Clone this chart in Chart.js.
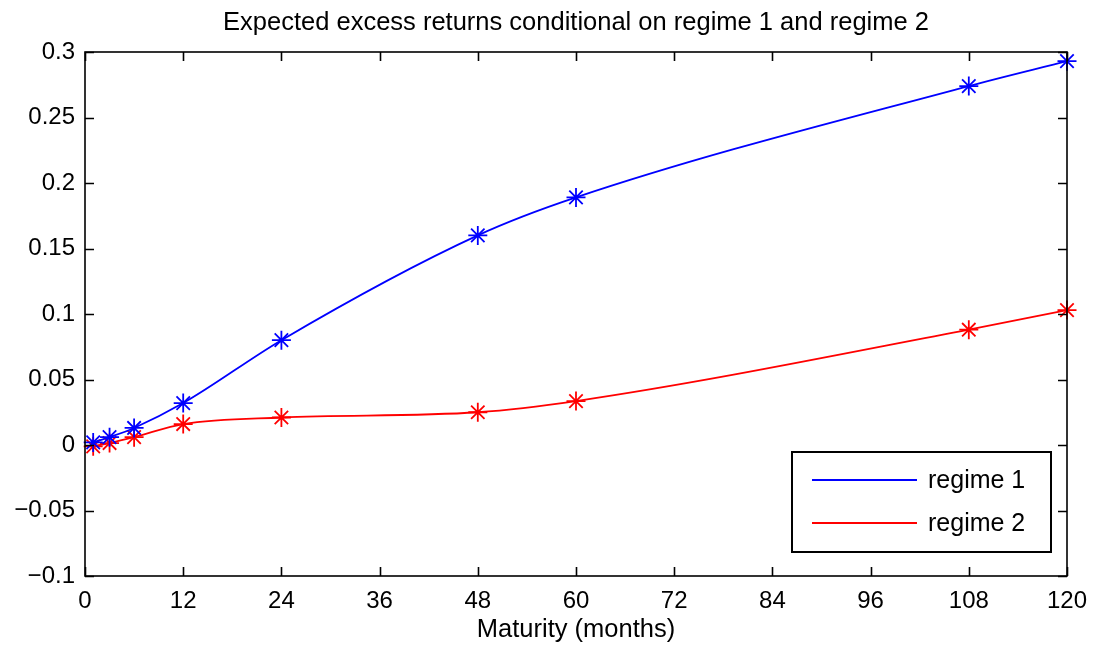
<!DOCTYPE html>
<html>
<head>
<meta charset="utf-8">
<script src="https://cdn.jsdelivr.net/npm/chart.js@4"></script>
<style>
  html, body { margin: 0; padding: 0; background: #fff; }
  #wrap { width: 1096px; height: 650px; position: relative; }
</style>
</head>
<body>
<div id="wrap"><canvas id="c"></canvas></div>
<script>
const maturities = [1, 3, 6, 12, 24, 48, 60, 108, 120];
const regime1 = [0.002, 0.006, 0.013, 0.032, 0.080, 0.160, 0.189, 0.274, 0.293];
const regime2 = [-0.001, 0.0015, 0.006, 0.016, 0.021, 0.025, 0.0335, 0.088, 0.103];
const seriesLabels = ['regime 1', 'regime 2'];
const seriesColors = ['#0000ff', '#ff0000'];
const titleText = 'Expected excess returns conditional on regime 1 and regime 2';
const xTitle = 'Maturity (months)';

const FONT = '"Liberation Sans", Arial, Helvetica, sans-serif';

function toXY(xs, ys) { return xs.map((x, i) => ({ x: x, y: ys[i] })); }

const frame = {
  id: 'frame',
  afterDraw(chart) {
    const ctx = chart.ctx;
    const a = chart.chartArea;
    const xs = chart.scales.x, ys = chart.scales.y;
    ctx.save();
    ctx.strokeStyle = '#000';
    ctx.lineWidth = 1.6;
    ctx.strokeRect(a.left, a.top, a.right - a.left, a.bottom - a.top);
    const tl = 9;
    ctx.beginPath();
    ys.ticks.forEach(t => {
      const p = Math.round(ys.getPixelForValue(t.value)) + 0.5;
      ctx.moveTo(a.left, p); ctx.lineTo(a.left + tl, p);
      ctx.moveTo(a.right, p); ctx.lineTo(a.right - tl, p);
    });
    xs.ticks.forEach(t => {
      const p = Math.round(xs.getPixelForValue(t.value)) + 0.5;
      ctx.moveTo(p, a.bottom); ctx.lineTo(p, a.bottom - tl);
      ctx.moveTo(p, a.top); ctx.lineTo(p, a.top + tl);
    });
    ctx.stroke();

    // titles
    ctx.fillStyle = '#000';
    ctx.textAlign = 'center';
    ctx.textBaseline = 'alphabetic';
    ctx.font = '25.5px ' + FONT;
    ctx.fillText(titleText, 576, 30);
    ctx.fillText(xTitle, 576, 637);

    // legend
    const lw = 259, lh = 100;
    const lx = a.right - 16 - lw, ly = a.bottom - 24 - lh;
    ctx.fillStyle = '#fff';
    ctx.fillRect(lx, ly, lw, lh);
    ctx.lineWidth = 2;
    ctx.strokeStyle = '#000';
    ctx.strokeRect(lx, ly, lw, lh);
    ctx.textAlign = 'left';
    ctx.textBaseline = 'middle';
    ctx.font = '25px ' + FONT;
    chart.data.datasets.forEach((ds, i) => {
      const yy = ly + 28 + i * 43;
      ctx.strokeStyle = ds.borderColor;
      ctx.lineWidth = 1.8;
      ctx.beginPath();
      ctx.moveTo(lx + 20, yy); ctx.lineTo(lx + 125, yy);
      ctx.stroke();
      ctx.fillStyle = '#000';
      ctx.fillText(ds.label, lx + 136, yy + 1);
    });
    ctx.restore();
  }
};

new Chart(document.getElementById('c'), {
  type: 'line',
  data: {
    datasets: [regime1, regime2].map((vals, i) => ({
      label: seriesLabels[i],
      data: toXY(maturities, vals),
      borderColor: seriesColors[i],
      backgroundColor: seriesColors[i],
      pointBorderColor: seriesColors[i],
      borderWidth: 1.8,
      pointStyle: 'star',
      pointRadius: 9.5,
      pointBorderWidth: 1.8,
      pointHoverRadius: 9.5,
      cubicInterpolationMode: 'monotone',
      fill: false,
      clip: false
    }))
  },
  options: {
    responsive: true,
    maintainAspectRatio: false,
    animation: false,
    events: [],
    layout: { padding: { left: 0, right: 29, top: 52, bottom: 0 } },
    plugins: { legend: { display: false }, title: { display: false }, tooltip: { enabled: false } },
    scales: {
      x: {
        type: 'linear',
        min: 0, max: 120,
        ticks: {
          stepSize: 12,
          color: '#000',
          font: { family: FONT, size: 24 },
          padding: 11,
          maxRotation: 0
        },
        grid: { display: false, drawTicks: false },
        border: { display: false },
        afterFit(s) { s.height = 74; s.paddingLeft = 0; s.paddingRight = 0; }
      },
      y: {
        min: -0.1, max: 0.3,
        ticks: {
          stepSize: 0.05,
          color: '#000',
          font: { family: FONT, size: 24 },
          padding: 10,
          callback: v => Number(v.toFixed(2)).toString().replace('-', '\u2212')
        },
        grid: { display: false, drawTicks: false },
        border: { display: false },
        afterFit(s) { s.width = 85; s.paddingTop = 0; s.paddingBottom = 0; }
      }
    }
  },
  plugins: [frame]
});
</script>
</body>
</html>
